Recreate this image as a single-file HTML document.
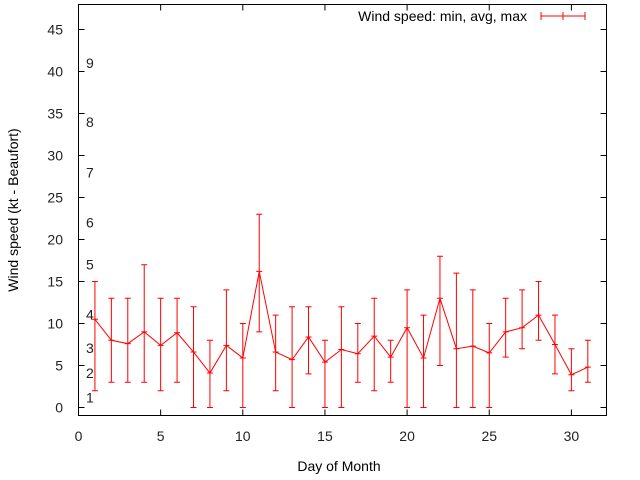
<!DOCTYPE html>
<html><head><meta charset="utf-8"><style>
body{margin:0;background:#fff}
svg{display:block;font-family:"Liberation Sans",sans-serif;font-size:14px}
</style></head><body>
<svg id="chart" width="640" height="480">
<rect x="78.5" y="4.5" width="528" height="411" fill="none" stroke="#000"/>
<g id="axes"></g>
<g id="beaufort"></g>
<g id="series"></g>
<text x="339" y="471" text-anchor="middle">Day of Month</text>
<text transform="translate(18,210) rotate(-90)" text-anchor="middle">Wind speed (kt - Beaufort)</text>
<g>
<text x="527" y="21" text-anchor="end">Wind speed: min, avg, max</text>
<path d="M541 16H585M541 12V20M563 12V20M585 12V20" stroke="red" fill="none"/>
</g>
</svg>
<script>
const days=[1,2,3,4,5,6,7,8,9,10,11,12,13,14,15,16,17,18,19,20,21,22,23,24,25,26,27,28,29,30,31];
const minV=[2,3,3,3,2,3,0,0,2,0,9,2,0,4,0,0,3,2,3,0,0,5,0,0,0,6,7,8,4,2,3];
const avgV=[10.5,8,7.6,9,7.4,8.9,6.6,4.1,7.4,5.9,16.2,6.6,5.7,8.4,5.4,6.9,6.4,8.5,6,9.5,5.9,13,7,7.3,6.5,9,9.5,11,7.5,3.9,4.8];
const maxV=[15,13,13,17,13,13,12,8,14,10,23,11,12,12,8,12,10,13,8,14,11,18,16,14,10,13,14,15,11,7,8];
const xTicks=[0,5,10,15,20,25,30];
const yTicks=[0,5,10,15,20,25,30,35,40,45];
const bft=[[1,1.2],[2,4.1],[3,7.1],[4,11.1],[5,17],[6,22],[7,28],[8,34],[9,41]];
const X=d=>78.5+d*16.43, Y=v=>407.5-v*8.4;
const NS="http://www.w3.org/2000/svg";
function mk(t,a,p){const e=document.createElementNS(NS,t);for(const k in a)e.setAttribute(k,a[k]);p.appendChild(e);return e;}
const ax=document.getElementById('axes');
xTicks.forEach(t=>{
 const g=mk('g',{},ax);
 
 
 mk('path',{d:`M${X(t)} 415.5v-6M${X(t)} 4.5v6`,stroke:'#000'},g);
 const tx=mk('text',{x:X(t),y:441,'text-anchor':'middle',fill:'#222'},g);tx.textContent=t;
});
yTicks.forEach(t=>{
 const g=mk('g',{},ax);
 
 
 mk('path',{d:`M78.5 ${Y(t)}h6M606.5 ${Y(t)}h-6`,stroke:'#000'},g);
 const tx=mk('text',{x:63,y:Y(t)+5,'text-anchor':'end',fill:'#222'},g);tx.textContent=t;
});
const bg=document.getElementById('beaufort');
bft.forEach(b=>{const tx=mk('text',{x:86,y:Y(b[1])+5,fill:'#222'},bg);
 
 
 tx.textContent=b[0];});
const sg=document.getElementById('series');
days.forEach((d,i)=>{const x=X(d);
 const p=mk('path',{d:`M${x} ${Y(minV[i])}V${Y(maxV[i])}M${x-3} ${Y(minV[i])}h6M${x-3} ${Y(maxV[i])}h6M${x-3} ${Y(avgV[i])}h6`,stroke:'red',fill:'none'},sg);
 
 
});
const line=mk('polyline',{points:days.map((d,i)=>X(d)+','+Y(avgV[i])).join(' '),stroke:'red',fill:'none'},sg);


</script>
</body></html>
